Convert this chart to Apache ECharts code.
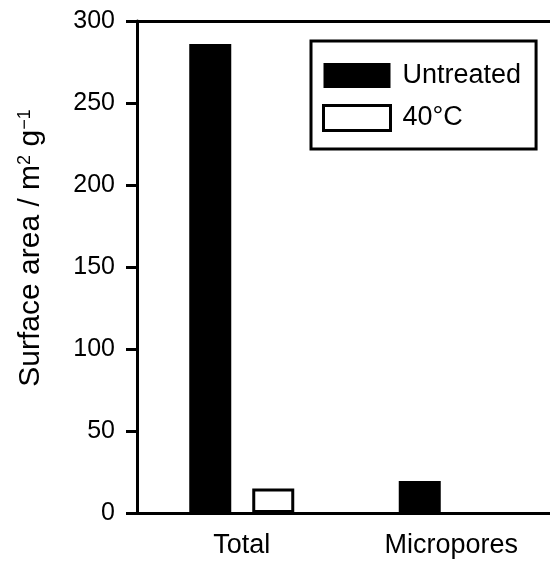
<!DOCTYPE html>
<html>
<head>
<meta charset="utf-8">
<script src="https://cdn.jsdelivr.net/npm/echarts@6/dist/echarts.min.js"></script>
<style>html,body{margin:0;padding:0;background:#fff;}#c{width:550px;height:569px;}</style>
</head>
<body>
<div id="c"></div>
<script>
var categories = ['Total', 'Micropores'];
var untreated = [286, 19.5];
var treated40 = [15, null];
var yTicks = [0, 50, 100, 150, 200, 250, 300];
var seriesNames = ['Untreated', '40\u00B0C'];

var FONT = "'Liberation Sans', Arial, Helvetica, sans-serif";
var chart = echarts.init(document.getElementById('c'), null, {renderer: 'canvas'});
chart.setOption({
  animation: false,
  backgroundColor: '#fff',
  grid: {left: 137, width: 419, top: 21, bottom: 56, containLabel: false, outerBoundsMode: 'none'},
  legend: {
    orient: 'vertical',
    left: 311, top: 41,
    padding: [21, 15, 17, 11],
    borderColor: '#000', borderWidth: 3, borderRadius: 0,
    icon: 'rect',
    itemWidth: 67, itemHeight: 25, itemGap: 15,
    textStyle: {fontFamily: FONT, fontSize: 27, color: '#000', padding: [0, 0, 0, 7]},
    data: [
      {name: seriesNames[0], itemStyle: {color: '#000', borderWidth: 0}},
      {name: seriesNames[1], itemStyle: {color: '#fff', borderColor: '#000', borderWidth: 3}}
    ]
  },
  xAxis: [{
    type: 'category', data: categories, position: 'bottom', z: 5,
    axisLine: {lineStyle: {color: '#000', width: 3}},
    axisTick: {show: false},
    axisLabel: {fontFamily: FONT, fontSize: 27, color: '#000', margin: 19}
  }, {
    type: 'category', data: categories, position: 'top',
    axisLine: {lineStyle: {color: '#000', width: 3}},
    axisTick: {show: false}, axisLabel: {show: false}
  }],
  yAxis: {
    type: 'value', min: yTicks[0], max: yTicks[yTicks.length - 1], interval: 50,
    axisLine: {show: true, lineStyle: {color: '#000', width: 3}},
    axisTick: {show: true, inside: false, length: 11, lineStyle: {color: '#000', width: 3}},
    splitLine: {show: false},
    axisLabel: {fontFamily: FONT, fontSize: 25, color: '#000', margin: 22},
    name: '{a|Surface area / m}{s|2}{a| g}{s|\u22121}',
    nameLocation: 'middle', nameGap: 91, nameRotate: 90,
    nameTextStyle: {
      fontFamily: FONT, color: '#000', padding: [0, 0, 0, 38],
      rich: {
        a: {fontFamily: FONT, fontSize: 30, color: '#000'},
        s: {fontFamily: FONT, fontSize: 18, color: '#000', verticalAlign: 'top'}
      }
    }
  },
  series: [{
    name: seriesNames[0], type: 'bar', data: untreated,
    barWidth: 42, barGap: '50%',
    itemStyle: {color: '#000'}
  }, {
    name: seriesNames[1], type: 'bar', data: treated40,
    barWidth: 42,
    itemStyle: {color: '#fff', borderColor: '#000', borderWidth: 3}
  }]
});
</script>
</body>
</html>
